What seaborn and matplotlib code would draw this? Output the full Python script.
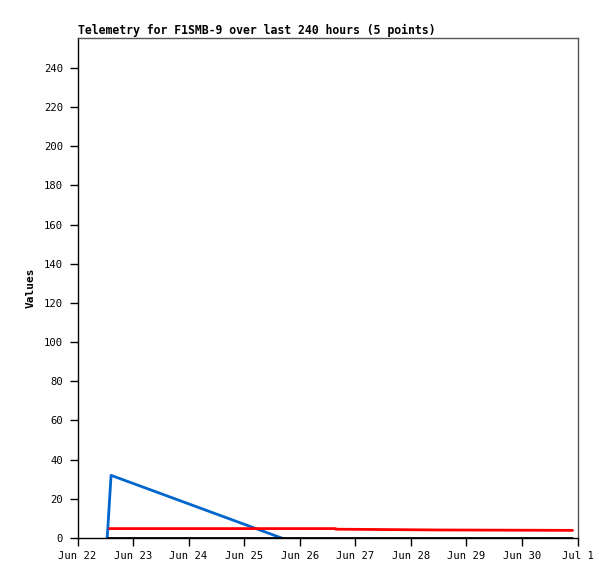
import pandas as pd
import numpy as np
import seaborn as sns
import matplotlib.pyplot as plt
import matplotlib.dates as mdates

# series
blue_times = ['2024-06-22 12:50', '2024-06-22 14:30', '2024-06-26 15:25', '2024-06-28 12:00', '2024-06-30 21:50']
blue_vals = [0, 32, -10.1, -30, -55]
red_times = ['2024-06-22 13:50', '2024-06-26 15:25', '2024-06-26 15:30', '2024-06-28 12:00', '2024-06-30 21:50']
red_vals = [4.8, 4.8, 4.5, 4.1, 3.9]
black_times = ['2024-06-22 13:00', '2024-06-26 15:25', '2024-06-28 12:00', '2024-06-30 21:50']
black_vals = [0, 0, 0, 0]

title = 'Telemetry for F1SMB-9 over last 240 hours (5 points)'
yticks = list(range(0, 241, 20))

df = pd.concat([
    pd.DataFrame({'time': pd.to_datetime(blue_times), 'value': blue_vals, 'series': 'a'}),
    pd.DataFrame({'time': pd.to_datetime(red_times), 'value': red_vals, 'series': 'b'}),
    pd.DataFrame({'time': pd.to_datetime(black_times), 'value': black_vals, 'series': 'c'}),
])

sns.set_style('white')
plt.rcParams['font.family'] = ['DejaVu Sans Mono']
plt.rcParams['text.color'] = 'black'
plt.rcParams['xtick.color'] = 'black'
plt.rcParams['ytick.color'] = 'black'
plt.rcParams['axes.labelcolor'] = 'black'

fig = plt.figure(figsize=(6.15, 5.79), dpi=100)
ax = fig.add_axes([77.5 / 615, 1 - 538 / 579, 500 / 615, 500 / 579])

sns.lineplot(data=df, x='time', y='value', hue='series', ax=ax,
             palette={'a': '#0066CC', 'b': '#FF0000', 'c': '#000000'},
             linewidth=2, legend=False, estimator=None, sort=False)

ax.set_xlim(pd.Timestamp('2024-06-22'), pd.Timestamp('2024-07-01'))
ax.set_ylim(0, 255.3)
ax.set_yticks(yticks)
ax.xaxis.set_major_locator(mdates.DayLocator())
ax.xaxis.set_major_formatter(mdates.DateFormatter('%b %-d'))
ax.tick_params(axis='both', direction='out', length=5.5, width=1, color='black',
               labelsize=7.6, left=True, bottom=True)
ax.tick_params(axis='y', pad=5)
ax.tick_params(axis='x', pad=4)
ax.set_xlabel('')
ax.set_ylabel('Values', fontsize=8, fontweight='bold', labelpad=6)
ax.set_title(title, loc='left', fontsize=8.3, fontweight='bold', pad=3)

for side in ['top', 'right']:
    ax.spines[side].set_color('#555555')
    ax.spines[side].set_linewidth(1)
for side in ['left', 'bottom']:
    ax.spines[side].set_color('black')
    ax.spines[side].set_linewidth(1)

fig.savefig('out.png', dpi=100)
